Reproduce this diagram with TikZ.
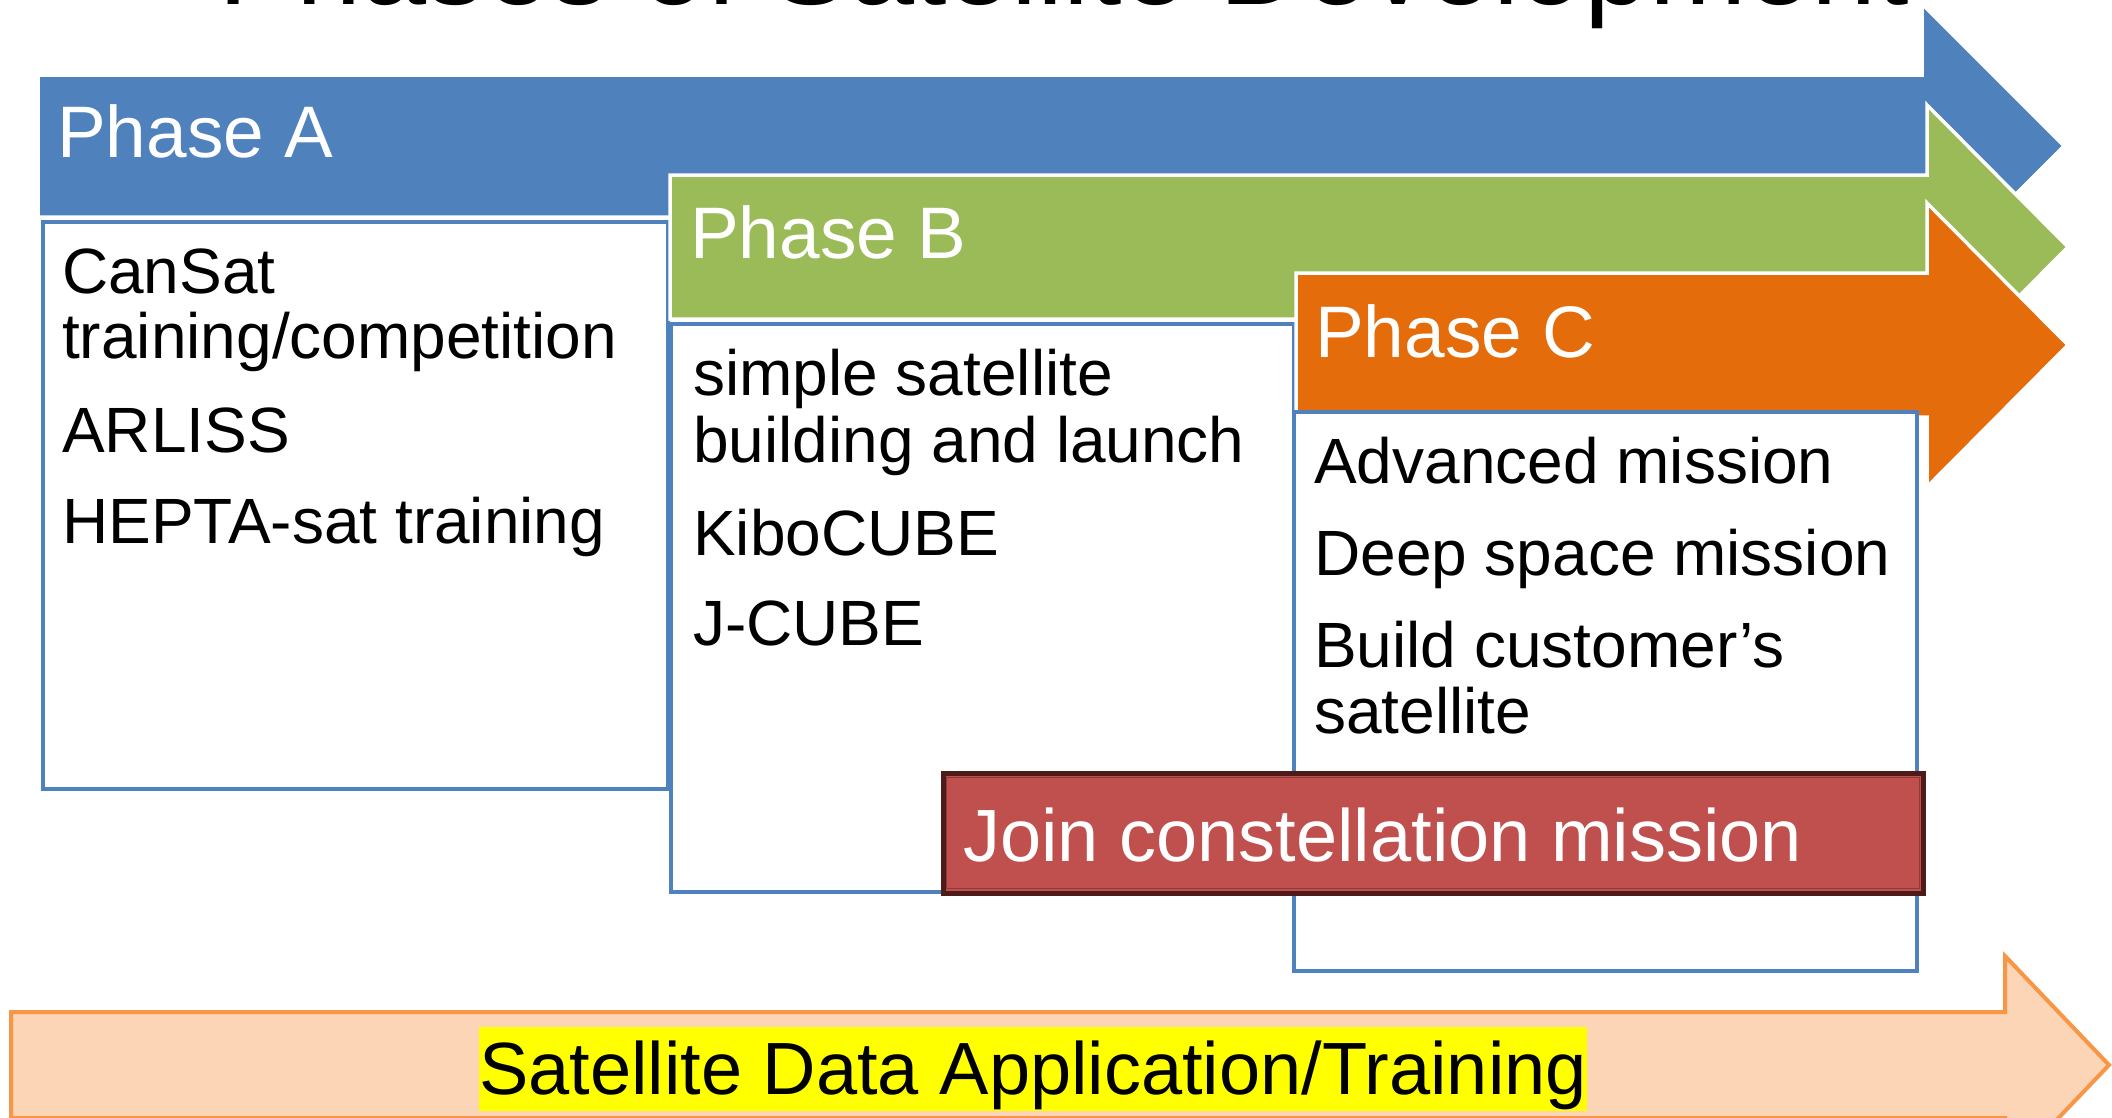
\documentclass[tikz,border=0pt]{standalone}
\usepackage{fontspec}
\setmainfont{Liberation Sans}
\definecolor{phaseA}{HTML}{4F81BD}
\definecolor{phaseB}{HTML}{9BBB59}
\definecolor{phaseC}{HTML}{E46C0A}
\definecolor{boxblue}{HTML}{4F81BD}
\definecolor{joinred}{HTML}{C0504D}
\definecolor{joinedge}{HTML}{4E1B1A}
\definecolor{joininner}{HTML}{8E3A38}
\definecolor{datafill}{HTML}{FBD5B5}
\definecolor{dataedge}{HTML}{F79646}
\definecolor{hiyellow}{HTML}{FFFF00}
\begin{document}
\begin{tikzpicture}[x=1pt,y=-1pt,
  phasearrow/.style={draw=white, line width=3.5pt, line join=miter},
  itembox/.style={draw=boxblue, line width=4pt, fill=white},
  boxtxt/.style={anchor=base west, inner sep=0pt, text=black, font=\fontsize{64}{70}\selectfont},
  phasetxt/.style={anchor=base west, inner sep=0pt, text=white, font=\fontsize{73}{80}\selectfont},
  bigtxt/.style={inner sep=0pt, font=\fontsize{74}{80}\selectfont}]
\useasboundingbox (0,0) rectangle (2112,1117);
\clip (0,0) rectangle (2112,1117);
\fill[white] (0,0) rectangle (2112,1117);

% title (mostly cut off at the top, as in the reference)
\node[anchor=base, inner sep=0pt, text=black, font=\fontsize{117}{120}\selectfont] (title) at (1064,4) {Phases of Satellite Development};

% Phase A arrow
\filldraw[phasearrow, fill=phaseA] (38,75) -- (1922,75) -- (1922,4) -- (2064,146) -- (1922,288) -- (1922,217) -- (38,217) -- cycle;
\node[phasetxt] (phA) at (57,157) {Phase A};
\draw[itembox] (43,222) rectangle (668,789);
\node[boxtxt] (a1) at (62,293) {CanSat};
\node[boxtxt] (a2) at (62,358) {training/competition};
\node[boxtxt] (a3) at (62,452) {ARLISS};
\node[boxtxt] (a4) at (62,543) {HEPTA-sat training};

% Phase B arrow
\filldraw[phasearrow, fill=phaseB] (670,175) -- (1927,175) -- (1927,105) -- (2068,247) -- (1927,389) -- (1927,319) -- (670,319) -- cycle;
\node[phasetxt] (phB) at (690,258) {Phase B};
\draw[itembox] (671,324) rectangle (1294,892);
\node[boxtxt] (b1) at (693,395) {simple satellite};
\node[boxtxt] (b2) at (693,462) {building and launch};
\node[boxtxt] (b3) at (693,555) {KiboCUBE};
\node[boxtxt] (b4) at (693,645) {J-CUBE};

% Phase C arrow
\filldraw[phasearrow, fill=phaseC] (1296,273) -- (1927,273) -- (1927,203) -- (2068,345) -- (1927,487) -- (1927,417) -- (1296,417) -- cycle;
\node[phasetxt] (phC) at (1315,357) {Phase C};
\draw[itembox] (1294,412) rectangle (1917,971);
\node[boxtxt] (c1) at (1314,483) {Advanced mission};
\node[boxtxt] (c2) at (1314,575) {Deep space mission};
\node[boxtxt] (c3) at (1314,667) {Build customer’s};
\node[boxtxt] (c4) at (1314,733) {satellite};

% constellation box
\filldraw[fill=joinred, draw=joinedge, line width=5pt] (943,773) rectangle (1923,893);
\draw[joininner, line width=1.5pt] (946.5,777.5) rectangle (1919.5,888.5);
\node[bigtxt, anchor=base west, text=white] (join) at (963,861) {Join constellation mission};

% bottom arrow
\filldraw[fill=datafill, draw=dataedge, line width=4pt, line join=miter] (11,1012) -- (2005,1012) -- (2005,956) -- (2109,1065) -- (2005,1174) -- (2005,1118) -- (11,1118) -- cycle;
\node[bigtxt, anchor=base, fill=hiyellow, text=black, text height=67pt, text depth=17pt] (data) at (1033,1094) {Satellite Data Application/Training};
\end{tikzpicture}
\end{document}
